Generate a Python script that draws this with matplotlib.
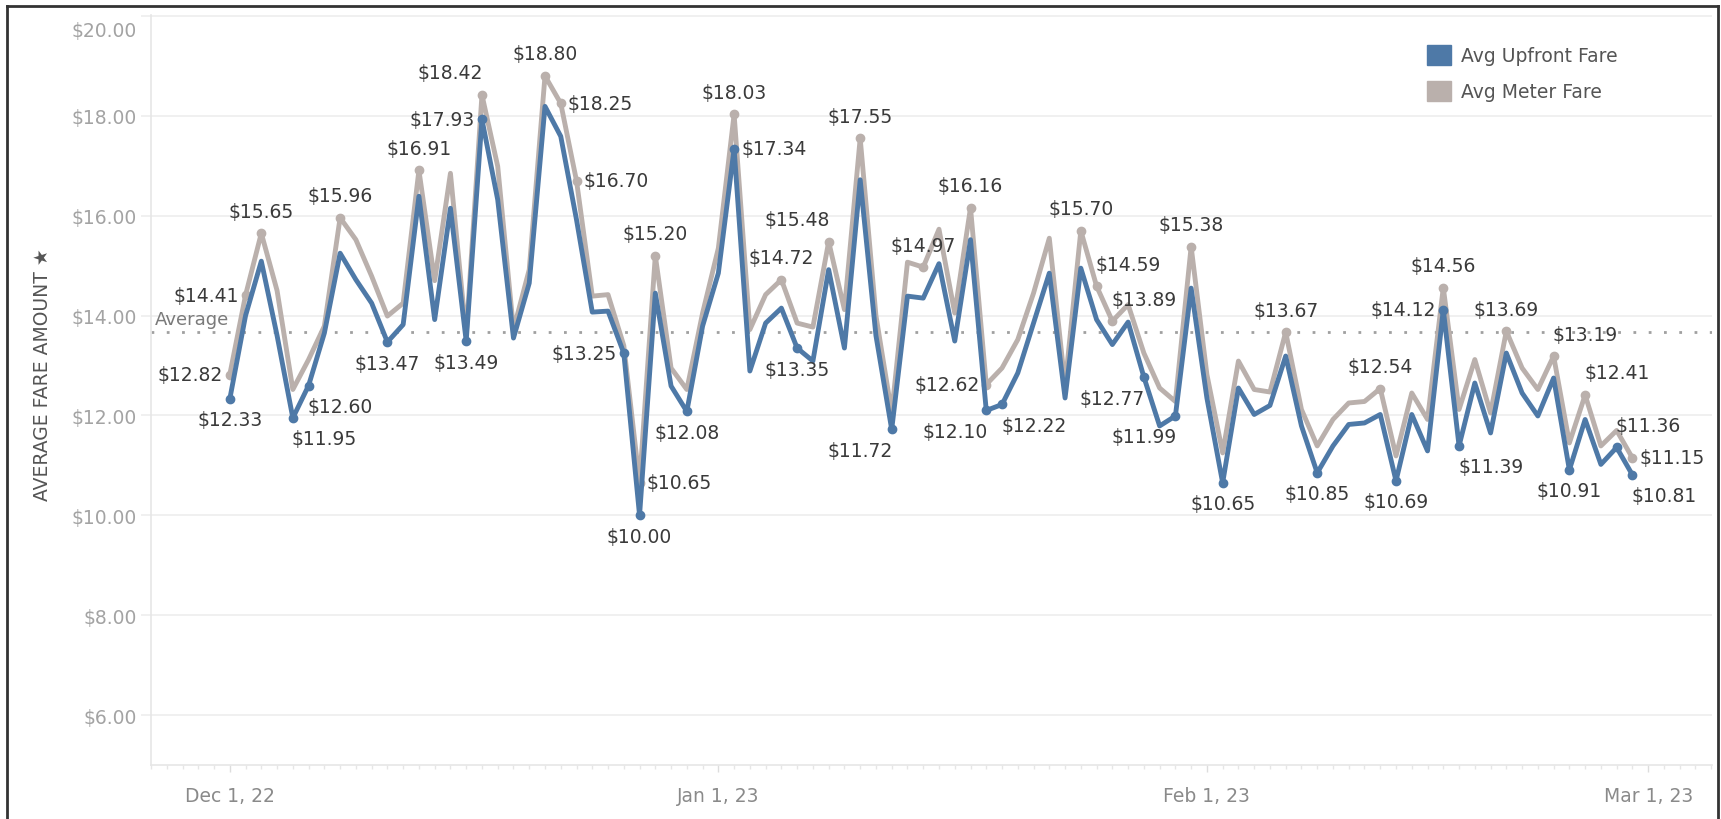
import datetime as dt

import matplotlib
matplotlib.use('Agg')
import matplotlib.dates as mdates
import matplotlib.pyplot as plt
from matplotlib.lines import Line2D
from matplotlib.patches import Patch

plt.rcParams['font.family'] = ['DejaVu Sans']

# Daily averages, Dec 1 2022 .. Feb 28 2023

start = dt.datetime(2022, 12, 1)
days = [start + dt.timedelta(days=i) for i in range(90)]

upfront = [12.33, 14.00, 15.09, 13.60, 11.95, 12.60, 13.65, 15.25, 14.72, 14.25,
           13.47, 13.82, 16.39, 13.92, 16.15, 13.49, 17.93, 16.32, 13.55, 14.65,
           18.19, 17.59, 15.92, 14.07, 14.09, 13.25, 10.00, 14.45, 12.59, 12.08,
           13.79, 14.85, 17.34, 12.89, 13.85, 14.15, 13.35, 13.09, 14.92, 13.35,
           16.72, 13.60, 11.72, 14.39, 14.35, 15.04, 13.49, 15.52, 12.10, 12.22,
           12.85, 13.85, 14.85, 12.35, 14.95, 13.92, 13.42, 13.87, 12.77, 11.79,
           11.99, 14.55, 12.35, 10.65, 12.55, 12.02, 12.20, 13.19, 11.79, 10.85,
           11.39, 11.82, 11.85, 12.02, 10.69, 12.02, 11.29, 14.12, 11.39, 12.65,
           11.65, 13.25, 12.45, 11.99, 12.75, 10.91, 11.92, 11.02, 11.36, 10.81]

meter = [12.82, 14.41, 15.65, 14.50, 12.52, 13.12, 13.79, 15.96, 15.52, 14.79,
         13.99, 14.25, 16.91, 14.70, 16.85, 13.60, 18.42, 16.99, 13.72, 14.92,
         18.80, 18.25, 16.70, 14.39, 14.42, 13.40, 10.65, 15.20, 12.95, 12.52,
         14.05, 15.35, 18.03, 13.72, 14.42, 14.72, 13.85, 13.77, 15.48, 14.12,
         17.55, 14.00, 12.05, 15.07, 14.97, 15.73, 14.05, 16.16, 12.62, 12.95,
         13.52, 14.45, 15.55, 12.60, 15.70, 14.59, 13.89, 14.22, 13.25, 12.55,
         12.28, 15.38, 12.82, 11.25, 13.09, 12.52, 12.47, 13.67, 12.12, 11.39,
         11.92, 12.25, 12.28, 12.54, 11.19, 12.45, 11.92, 14.56, 12.12, 13.12,
         12.05, 13.69, 12.95, 12.52, 13.19, 11.45, 12.41, 11.39, 11.70, 11.15]

average_fare = 13.67

# which points carry a value label (day index, where the label sits)
upfront_labels = [(0, 'below'), (4, 'below_right'), (5, 'below_right'), (10, 'below'),
                  (15, 'below'), (16, 'left'), (25, 'left'), (26, 'below'),
                  (29, 'below'), (32, 'right'), (36, 'below'), (42, 'below_left'),
                  (48, 'below_left'), (49, 'below_right'), (58, 'below_left'),
                  (60, 'below_left'), (63, 'below'), (69, 'below'), (74, 'below'),
                  (77, 'left'), (78, 'below_right'), (85, 'below'),
                  (88, 'above_right'), (89, 'below_right')]
meter_labels = [(0, 'left'), (1, 'left'), (2, 'above'), (7, 'above'), (12, 'above'),
                (16, 'above_left'), (20, 'above'), (21, 'right'), (22, 'right'),
                (26, 'right'), (27, 'above'), (32, 'above'), (35, 'above'),
                (38, 'above_left'), (40, 'above'), (44, 'above'), (47, 'above'),
                (48, 'left'), (54, 'above'), (55, 'above_right'), (56, 'above_right'),
                (61, 'above'), (67, 'above'), (73, 'above'), (77, 'above'),
                (81, 'above'), (84, 'above_right'), (86, 'above_right'), (89, 'right')]

blue = '#4e79a7'
grey = '#bab0ac'

# label offsets in pixels
place = {
    'above': (0, 22, 'center'),
    'below': (0, -21, 'center'),
    'left': (-7, 0, 'right'),
    'right': (7, 0, 'left'),
    'above_left': (1, 22, 'right'),
    'above_right': (-1, 22, 'left'),
    'below_left': (1, -21, 'right'),
    'below_right': (-1, -21, 'left'),
}

fig = plt.figure(figsize=(17.21, 8.2), dpi=100)
ax = fig.add_axes([151/1721, 1 - 766/820, (1712 - 151)/1721, (766 - 16)/820])


def draw_series(values, labels, color, z):
    ax.plot(days, values, color=color, lw=3.5, zorder=z, solid_joinstyle='round')
    for i, pos in labels:
        dx, dy, ha = place[pos]
        ax.plot(days[i], values[i], 'o', color=color, ms=6, zorder=z)
        ax.annotate('$%.2f' % values[i], (days[i], values[i]), xytext=(dx, dy),
                    textcoords='offset pixels', ha=ha, va='center',
                    fontsize=13.5, color='#3a3a3a', zorder=5)


draw_series(meter, meter_labels, grey, 3)
draw_series(upfront, upfront_labels, blue, 4)

# reference line
ax.axhline(average_fare, color='#a0a0a0', lw=2, ls=(0, (1, 4.5)), zorder=2)
ax.annotate('Average', (0, average_fare), xycoords=('axes fraction', 'data'),
            xytext=(4, 4), textcoords='offset pixels', ha='left', va='bottom',
            fontsize=13, color='#7a7a7a')

# axes
x0 = mdates.date2num(start)
ax.set_xlim(x0 - 5.0, x0 + 94.05)
ax.set_ylim(5, 20.02)

yticks = [6, 8, 10, 12, 14, 16, 18, 20]
ytick_labels = ['$%.2f' % v for v in yticks]
# the top label sits inside the plot, below its grid line
ax.set_yticks(yticks, labels=ytick_labels[:-1] + [''])
ax.annotate(ytick_labels[-1], (0, yticks[-1]), xycoords=('axes fraction', 'data'),
            xytext=(-14.6, -15), textcoords='offset pixels', ha='right', va='center',
            fontsize=13.5, color='#a3a3a3', annotation_clip=False)
ax.grid(axis='y', color='#eeeeee', lw=1.2, zorder=0)

ax.xaxis.set_major_locator(mdates.MonthLocator())
ax.xaxis.set_major_formatter(mdates.DateFormatter('%b %-d, %y'))
ax.xaxis.set_minor_locator(mdates.DayLocator())

ax.tick_params(axis='y', length=7, width=1.2, color='#eeeeee', pad=3.5,
               labelsize=13.5, labelcolor='#a3a3a3')
ax.tick_params(axis='x', which='major', length=5, width=1, color='#dddddd', pad=10,
               labelsize=13.5, labelcolor='#8a8a8a')
ax.tick_params(axis='x', which='minor', length=3, width=1, color='#e6e6e6')

for side in ['top', 'right']:
    ax.spines[side].set_visible(False)
for side in ['left', 'bottom']:
    ax.spines[side].set_color('#e6e6e6')
    ax.spines[side].set_linewidth(1.2)

fig.text(42/1721, 1 - 375/820, 'AVERAGE FARE AMOUNT \u2605', rotation=90,
         ha='center', va='center', fontsize=13.5, color='#555555')

# legend
handles = [Patch(color=blue, label='Avg Upfront Fare'),
           Patch(color=grey, label='Avg Meter Fare')]
fig.legend(handles=handles, loc='upper left', bbox_to_anchor=(1427/1721, 1 - 46/820),
           frameon=False, fontsize=13.5, labelcolor='#555555', borderpad=0,
           borderaxespad=0, handlelength=1.3, handleheight=1.3,
           handletextpad=0.5, labelspacing=0.8)

# frame round the picture (no bottom edge)
frame = dict(color='#333333', lw=2, transform=fig.transFigure)
fig.add_artist(Line2D([7/1721, 7/1721], [0, 1 - 7/820], **frame))
fig.add_artist(Line2D([7/1721, 1718/1721], [1 - 7/820, 1 - 7/820], **frame))
fig.add_artist(Line2D([1718/1721, 1718/1721], [0, 1 - 7/820], **frame))

fig.savefig('out.png', dpi=100)
